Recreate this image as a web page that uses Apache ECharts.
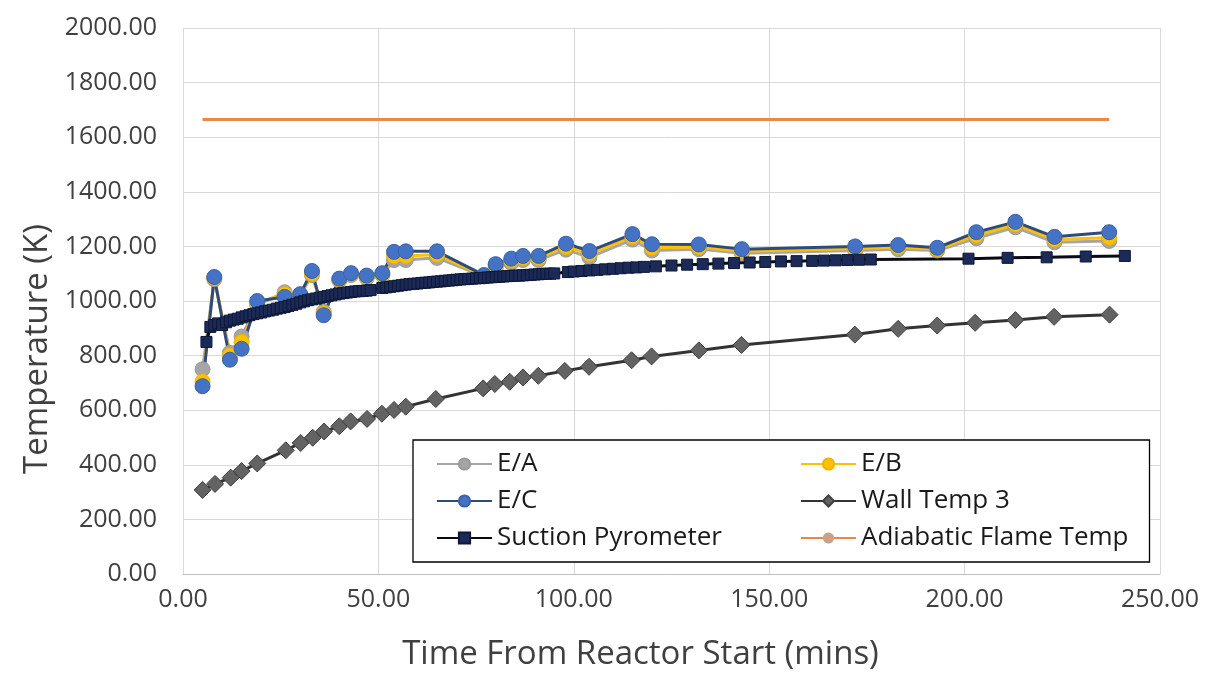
<!DOCTYPE html>
<html>
<head>
<meta charset="utf-8">
<script src="https://cdn.jsdelivr.net/npm/echarts@6/dist/echarts.min.js"></script>
<style>html,body{margin:0;padding:0;background:#fff;}#c{width:1212px;height:676px;}</style>
</head>
<body>
<div id="c"></div>
<script>
// ---- data ----
const tE = [5, 8, 12, 15, 19, 26, 30, 33, 36, 40, 43, 47, 51, 54, 57, 65, 77, 80, 84, 87, 91, 98, 104, 115, 120, 132, 143, 172, 183, 193, 203, 213, 223, 237];
const eA = [750, 1080, 810, 870, 985, 1032, 1020, 1095, 960, 1075, 1095, 1085, 1095, 1150, 1150, 1158, 1090, 1120, 1140, 1150, 1150, 1188, 1160, 1225, 1185, 1190, 1175, 1185, 1190, 1185, 1230, 1270, 1215, 1220];
const eB = [705, 1085, 800, 850, 993, 1025, 1022, 1100, 955, 1078, 1098, 1088, 1098, 1165, 1165, 1170, 1092, 1128, 1148, 1158, 1158, 1198, 1172, 1235, 1195, 1198, 1182, 1192, 1198, 1190, 1240, 1280, 1225, 1232];
const eC = [688, 1088, 785, 825, 1000, 1015, 1025, 1110, 948, 1082, 1102, 1093, 1102, 1180, 1182, 1182, 1095, 1135, 1155, 1165, 1165, 1210, 1183, 1245, 1208, 1207, 1190, 1200, 1205, 1195, 1252, 1290, 1235, 1252];

const tWall = [5, 8.2, 12.2, 15, 19, 26.3, 30.1, 33.2, 36.1, 40, 42.9, 47.1, 50.9, 54, 57, 64.7, 76.8, 79.8, 83.6, 87, 90.9, 97.7, 103.9, 114.8, 119.9, 132, 142.9, 171.9, 183, 193, 202.7, 213, 222.9, 237.1];
const wall = [308, 330, 353, 377, 405, 453, 480, 499, 522, 541, 559, 568, 587, 601, 613, 641, 680, 696, 704, 720, 726, 744, 759, 783, 797, 819, 839, 877, 898, 910, 920, 930, 942, 950];

const tPyro = [6, 7, 8, 9, 10, 11, 12, 13, 14, 15, 16, 17, 18, 19, 20, 21, 22, 23, 24, 25, 26, 27, 28, 29, 30, 31, 32, 33, 34, 35, 36, 37, 38, 39, 40, 41, 42, 43, 44, 45, 46, 47, 48,
  51, 52, 53, 54, 55, 56, 57, 58, 59, 60, 61, 62, 63, 64, 65, 66, 67, 68, 69, 70, 71, 72, 73, 74, 75, 76, 77, 78, 79, 80, 81, 82, 83, 84, 85, 86, 87, 88, 89, 90, 91, 92, 93, 94, 95,
  98.5, 100, 102, 104, 106, 108, 110, 112, 114, 116, 118, 121, 125, 129, 133, 137, 141, 145, 149, 153, 157, 161, 164, 167, 170, 173, 176,
  201, 211, 221, 231, 241];
const pyro = [850, 905, 912, 918, 912, 922, 928, 932, 935, 940, 944, 948, 952, 955, 958, 962, 965, 968, 972, 975, 978, 982, 986, 990, 995, 999, 1003, 1006, 1009, 1012, 1015, 1018, 1021, 1024, 1027, 1029, 1031, 1033, 1035, 1036, 1037, 1038, 1040,
  1048, 1050, 1052, 1054, 1056, 1058, 1060, 1062, 1063, 1064, 1066, 1067, 1068, 1070, 1071, 1072, 1074, 1075, 1076, 1078, 1079, 1080, 1081, 1082, 1083, 1084, 1085, 1086, 1087, 1088, 1089, 1090, 1091, 1092, 1093, 1093, 1094, 1095, 1096, 1097, 1098, 1099, 1100, 1100, 1101,
  1106, 1108, 1110, 1112, 1114, 1116, 1118, 1120, 1122, 1123, 1125, 1127, 1130, 1133, 1135, 1137, 1139, 1141, 1143, 1145, 1146, 1147, 1148, 1149, 1150, 1151, 1152,
  1155, 1158, 1160, 1163, 1165];

const tFlame = [5, 237];
const flame = [1665, 1665];

const xTicks = {min: 0, max: 250, interval: 50};
const yTicks = {min: 0, max: 2000, interval: 200};

// ---- chart ----
const zip = (xs, ys) => xs.map((x, i) => [x, ys[i]]);
const FONT = 'Open Sans';
const chart = echarts.init(document.getElementById('c'));
chart.setOption({
  animation: false,
  backgroundColor: '#fff',
  textStyle: {fontFamily: FONT},
  grid: {left: 183, right: 52, top: 28, bottom: 98, containLabel: false},
  xAxis: {
    type: 'value', min: xTicks.min, max: xTicks.max, interval: xTicks.interval,
    name: 'Time From Reactor Start (mins)', nameLocation: 'middle', nameGap: 64,
    nameTextStyle: {fontSize: 33, color: '#404040', fontFamily: FONT, padding: [0, 62, 0, 0]},
    axisLine: {show: true, lineStyle: {color: '#BFBFBF', width: 1}},
    axisTick: {show: false},
    axisLabel: {fontSize: 25, color: '#404040', margin: 13, formatter: v => v.toFixed(2), fontFamily: FONT},
    splitLine: {show: true, lineStyle: {color: '#D9D9D9', width: 1}}
  },
  yAxis: {
    type: 'value', min: yTicks.min, max: yTicks.max, interval: yTicks.interval,
    name: 'Temperature (K)', nameLocation: 'middle', nameGap: 120, nameRotate: 90,
    nameTextStyle: {fontSize: 33, color: '#404040', fontFamily: FONT, padding: [0, 96, 0, 0]},
    axisLine: {show: false},
    axisTick: {show: false},
    axisLabel: {fontSize: 25, color: '#404040', margin: 26, formatter: v => v.toFixed(2), fontFamily: FONT},
    splitLine: {show: true, lineStyle: {color: '#D9D9D9', width: 1}}
  },
  legend: {
    orient: 'vertical',
    left: 413, top: 440,
    height: 102,
    padding: [11, 21, 11, 23],
    itemGap: 11,
    itemWidth: 55, itemHeight: 14,
    backgroundColor: '#fff',
    borderColor: '#000', borderWidth: 1.3,
    textStyle: {fontSize: 26, color: '#1a1a1a', lineHeight: 26, fontFamily: FONT},
    data: [
      {name: 'E/A', textStyle: {width: 292}},
      {name: 'E/C', textStyle: {width: 292}},
      {name: 'Suction Pyrometer', textStyle: {width: 292}},
      {name: 'E/B', textStyle: {width: 265}},
      {name: 'Wall Temp 3', textStyle: {width: 265}},
      {name: 'Adiabatic Flame Temp', textStyle: {width: 265}}
    ]
  },
  series: [
    {name: 'E/A', type: 'line', data: zip(tE, eA), symbol: 'circle', symbolSize: 15,
      lineStyle: {color: '#A5A5A5', width: 3}, itemStyle: {color: '#A5A5A5', borderColor: '#9A9A9A', borderWidth: 1}},
    {name: 'E/B', type: 'line', data: zip(tE, eB), symbol: 'circle', symbolSize: 15,
      lineStyle: {color: '#FFC000', width: 3}, itemStyle: {color: '#FFC000', borderColor: '#F0B400', borderWidth: 1}},
    {name: 'E/C', type: 'line', data: zip(tE, eC), symbol: 'circle', symbolSize: 15,
      lineStyle: {color: '#2F4B7C', width: 3}, itemStyle: {color: '#4472C4', borderColor: '#3A62AA', borderWidth: 1}},
    {name: 'Wall Temp 3', type: 'line', data: zip(tWall, wall), symbol: 'diamond', symbolSize: 17,
      lineStyle: {color: '#333333', width: 3}, itemStyle: {color: '#636363', borderColor: '#404040', borderWidth: 1}},
    {name: 'Suction Pyrometer', type: 'line', data: zip(tPyro, pyro), symbol: 'rect', symbolSize: 11,
      lineStyle: {color: '#0A0A14', width: 3}, itemStyle: {color: '#1B2A57', borderColor: '#0E1838', borderWidth: 1}},
    {name: 'Adiabatic Flame Temp', type: 'line', data: zip(tFlame, flame), symbol: 'none', showSymbol: false,
      lineStyle: {color: '#E8894A', width: 3}, itemStyle: {color: '#C9A287'}}
  ]
});
</script>
</body>
</html>
